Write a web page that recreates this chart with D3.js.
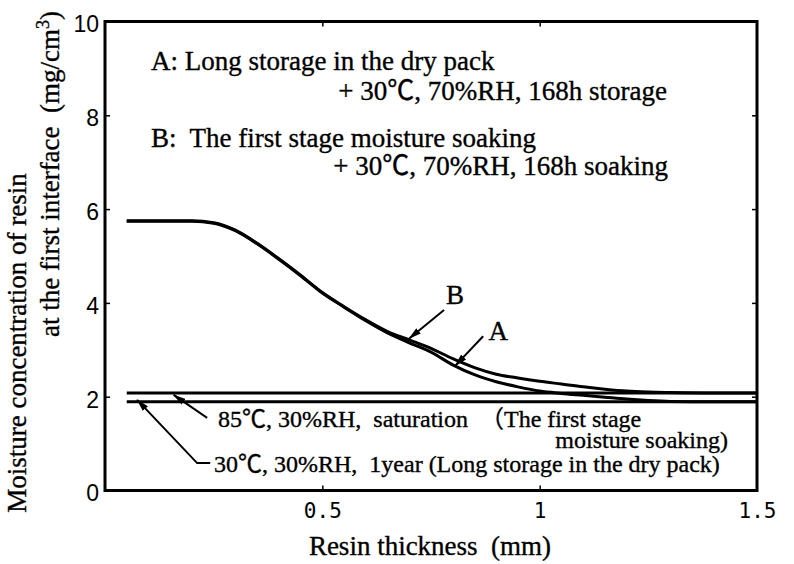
<!DOCTYPE html>
<html><head><meta charset="utf-8">
<script src="https://cdn.jsdelivr.net/npm/d3@7"></script>
<style>body{margin:0;background:#fff} svg{display:block}</style>
</head><body>
<svg id="chart" width="794" height="564"></svg>
<script>
// ---------------- data ----------------
const thickness = [0.05,0.10,0.15,0.20,0.25,0.30,0.35,0.40,0.45,0.50,0.55,0.60,0.65,0.70,0.75,0.80,0.85,0.90,0.95,1.00,1.05,1.10,1.15,1.20,1.25,1.30,1.40,1.50];
const seriesB   = [5.75,5.75,5.75,5.75,5.71,5.55,5.27,4.94,4.59,4.22,3.92,3.64,3.39,3.21,3.03,2.81,2.62,2.48,2.40,2.33,2.27,2.21,2.16,2.12,2.10,2.09,2.08,2.08];
const seriesA   = [5.74,5.74,5.74,5.74,5.70,5.54,5.26,4.93,4.58,4.21,3.91,3.62,3.36,3.15,2.95,2.68,2.47,2.32,2.21,2.12,2.07,2.03,1.99,1.95,1.92,1.90,1.89,1.89];
const flatX     = [0.05, 1.50];
const sat85     = [2.08, 2.08];
const store30   = [1.89, 1.89];
const xTickValues = [0.5, 1, 1.5];
const xTickLabels = ["0.5", "1", "1.5"];
const yTickValues = [0, 2, 4, 6, 8, 10];
const yTickLabels = ["0", "2", "4", "6", "8", "10"];
const headerA = ["A: Long storage in the dry pack", "+ 30℃, 70%RH, 168h storage"];
const headerB = ["B:  The first stage moisture soaking", "+ 30℃, 70%RH, 168h soaking"];
const note85  = ["85℃, 30%RH,  saturation  （The first stage", "moisture soaking)"];
const note30  = ["30℃, 30%RH,  1year (Long storage in the dry pack)"];
const curveLabels = ["A", "B"];
const xTitle = "Resin thickness  (mm)";
const yTitle1 = "Moisture concentration of resin";
const yTitle2 = ["at the first interface  (mg/cm", "3", ")"];

// ---------------- layout ----------------
const svg = d3.select("#chart");
const L = 105, R = 757, T = 21.5, B = 490.5;
const x = d3.scaleLinear().domain([0, 1.5]).range([L, R]);
const y = d3.scaleLinear().domain([0, 10]).range([B, T]);
const serif = "'Liberation Serif','Times New Roman','Noto Sans CJK JP',serif";

// arrow marker
svg.append("defs").append("marker")
  .attr("id", "ah").attr("markerUnits", "userSpaceOnUse")
  .attr("viewBox", "0 0 13 7").attr("refX", 12).attr("refY", 3.5)
  .attr("markerWidth", 13).attr("markerHeight", 7).attr("orient", "auto")
  .append("path").attr("d", "M0,0 L13,3.5 L0,7 Z").attr("fill", "#000");

// frame
svg.append("rect").attr("x", L).attr("y", T).attr("width", R - L).attr("height", B - T)
  .attr("fill", "none").attr("stroke", "#000").attr("stroke-width", 3);

// axes via d3 axis, ticks inward
const xAxisB = d3.axisBottom(x).tickValues(xTickValues).tickSizeInner(-5).tickSizeOuter(0)
  .tickFormat((d, i) => xTickLabels[i]);
const gx = svg.append("g").attr("transform", `translate(0,${B})`).call(xAxisB);
gx.select(".domain").remove();
gx.selectAll(".tick line").attr("stroke", "#000").attr("stroke-width", 1.5)
  .filter(d => d === 1.5).remove();
gx.selectAll(".tick text").attr("y", 27).attr("dy", 0)
  .style("font-family", "'DejaVu Sans Mono',monospace").style("font-size", "21px").attr("fill", "#000");

const gxt = svg.append("g").attr("transform", `translate(0,${T})`)
  .call(d3.axisTop(x).tickValues([0.5, 1]).tickSizeInner(-5).tickSizeOuter(0).tickFormat(""));
gxt.select(".domain").remove();
gxt.selectAll(".tick line").attr("stroke", "#000").attr("stroke-width", 1.5);

const gy = svg.append("g").attr("transform", `translate(${L},0)`)
  .call(d3.axisLeft(y).tickValues(yTickValues).tickSizeInner(-5).tickSizeOuter(0)
    .tickFormat((d, i) => yTickLabels[i]));
gy.select(".domain").remove();
gy.selectAll(".tick line").attr("stroke", "#000").attr("stroke-width", 1.5)
  .filter(d => d === 0 || d === 10).remove();
gy.selectAll(".tick text").attr("x", -6).attr("dy", "0.45em")
  .style("font-family", "'Liberation Sans',Arial,sans-serif").style("font-size", "23px").attr("fill", "#000");

const gyr = svg.append("g").attr("transform", `translate(${R},0)`)
  .call(d3.axisRight(y).tickValues([2, 4, 6, 8]).tickSizeInner(-5).tickSizeOuter(0).tickFormat(""));
gyr.select(".domain").remove();
gyr.selectAll(".tick line").attr("stroke", "#000").attr("stroke-width", 1.5);

// lines
const line = d3.line().x(d => x(d[0])).y(d => y(d[1])).curve(d3.curveMonotoneX);
const drawSeries = (xs, ys, w) => svg.append("path")
  .attr("d", line(xs.map((v, i) => [v, ys[i]])))
  .attr("fill", "none").attr("stroke", "#000").attr("stroke-width", w);
drawSeries(flatX, sat85, 3);
drawSeries(flatX, store30, 3);
drawSeries(thickness, seriesB, 3);
drawSeries(thickness, seriesA, 3);

// text helper
const txt = (s, px, py, size, anchor) => svg.append("text")
  .attr("x", px).attr("y", py).attr("text-anchor", anchor || "start")
  .style("font-family", serif).style("font-size", size + "px")
  .style("white-space", "pre").attr("fill", "#000")
  .attr("stroke", "#000").attr("stroke-width", 0.35).text(s);

// header annotations
txt(headerA[0], 151, 70, 27);
txt(headerA[1], 667, 100, 27, "end");
txt(headerB[0], 151, 147, 27);
txt(headerB[1], 668, 175, 27, "end");

// curve labels with arrows
const arrow = pts => svg.append("path")
  .attr("d", d3.line()(pts)).attr("fill", "none").attr("stroke", "#000")
  .attr("stroke-width", 2).attr("marker-end", "url(#ah)");
const bTip = [x(0.70), y(3.21) - 1.5];
arrow([[x(0.78), y(3.85)], bTip]);
txt(curveLabels[1], x(0.805), y(3.97), 27, "middle");
const aTip = [x(0.806), y(2.64) - 1];
arrow([[x(0.87), y(3.29)], aTip]);
txt(curveLabels[0], x(0.905), y(3.20), 27, "middle");

// bottom notes
arrow([[x(0.235), y(1.55)], [x(0.158), y(2.08) + 2]]);
arrow([[x(0.242), y(0.585)], [x(0.212), y(0.585)], [x(0.074), y(1.89) - 2]]);
txt(note85[0], 218, 427, 24);
txt(note85[1], 728, 448, 24, "end");
txt(note30[0], 214, 472, 24);

// axis titles
txt(xTitle, (L + R) / 2 - 1, 555, 27, "middle");
svg.append("text").attr("transform", "translate(26,343) rotate(-90)")
  .attr("text-anchor", "middle").style("font-family", serif).style("font-size", "27px")
  .attr("fill", "#000").attr("stroke", "#000").attr("stroke-width", 0.35).text(yTitle1);
const t2 = svg.append("text").attr("transform", "translate(59,174) rotate(-90)")
  .attr("text-anchor", "middle").style("font-family", serif).style("font-size", "27px")
  .style("white-space", "pre").attr("fill", "#000").attr("stroke", "#000").attr("stroke-width", 0.35);
t2.append("tspan").text(yTitle2[0]);
t2.append("tspan").attr("dy", -10).style("font-size", "18px").text(yTitle2[1]);
t2.append("tspan").attr("dy", 10).text(yTitle2[2]);
</script>
</body></html>
